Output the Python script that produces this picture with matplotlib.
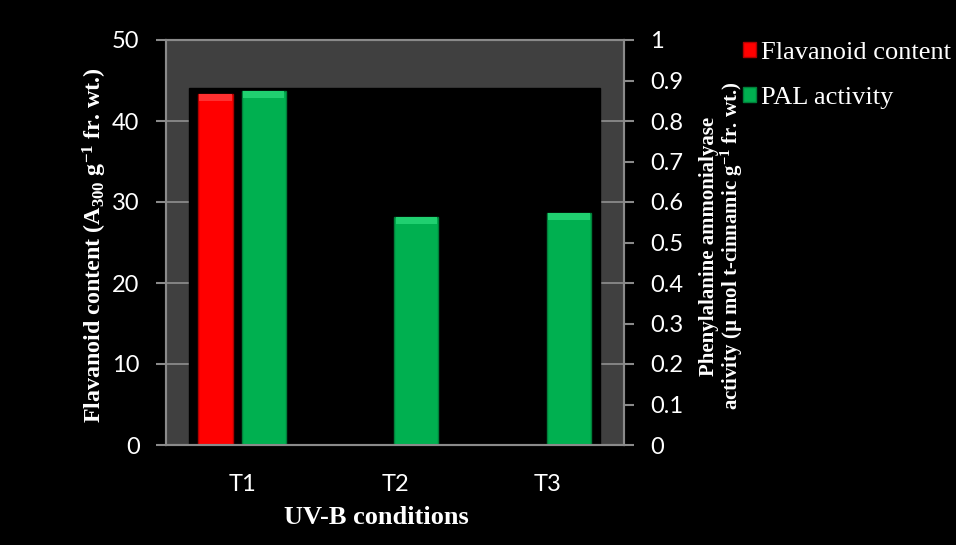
import matplotlib
matplotlib.use("Agg")
import matplotlib.pyplot as plt
from matplotlib.patches import Rectangle, Patch
import numpy as np

categories = ["T1", "T2", "T3"]
flavanoid = [43.3, None, None]
pal = [0.874, 0.562, 0.572]
left_ticks = [0, 10, 20, 30, 40, 50]
right_ticks = [0, 0.1, 0.2, 0.3, 0.4, 0.5, 0.6, 0.7, 0.8, 0.9, 1.0]
right_tick_labels = ["0", "0.1", "0.2", "0.3", "0.4", "0.5", "0.6", "0.7", "0.8", "0.9", "1"]

plt.rcParams['mathtext.fontset'] = 'custom'
plt.rcParams['mathtext.rm'] = 'Liberation Serif:bold'
plt.rcParams['mathtext.bf'] = 'Liberation Serif:bold'
plt.rcParams['mathtext.it'] = 'Liberation Serif:bold'

W, H = 956, 545
fig = plt.figure(figsize=(W/100, H/100), dpi=100, facecolor='black')
ax = fig.add_axes([166/W, 100/H, 458/W, 405/H])
ax.set_facecolor('#404040')
gray = '#8a8a8a'
TS = 17

x = np.arange(len(categories))
ax.set_xlim(-0.5, 2.5)
ax.set_ylim(0, 50)
ax.set_yticks(left_ticks)
ax.set_axisbelow(True)
ax.yaxis.grid(True, color=gray, linewidth=1.3)

# black inner panel
ax.add_patch(Rectangle((0.05, 0), 0.8976, 0.8815, transform=ax.transAxes,
                       color='black', zorder=1))

for s in ax.spines.values():
    s.set_color(gray)
    s.set_linewidth(1.5)
ax.tick_params(axis='y', colors=gray, length=7, width=1.5, pad=12, labelcolor='white')
ax.tick_params(axis='x', length=0, pad=21, labelcolor='white')
ax.set_xticks(x)
ax.set_xticklabels(categories, fontdict=dict(family='Lato', size=TS))
for lbl in ax.get_yticklabels():
    lbl.set_fontfamily('Lato'); lbl.set_fontsize(TS)

# red bars (left axis)
red_off, red_w = -0.176, 0.229
fx = [xi + red_off for xi, v in zip(x, flavanoid) if v is not None]
fv = [v for v in flavanoid if v is not None]
ax.bar(fx, fv, width=red_w, color='#ff0000', edgecolor='#b00000', linewidth=1, zorder=2)
ax.bar(fx, [0.8]*len(fv), bottom=[v-0.8 for v in fv], width=red_w*0.94,
       color='#ff3030', linewidth=0, zorder=2.1)

ax2 = ax.twinx()
ax2.set_ylim(0, 1)
ax2.set_yticks(right_ticks)
ax2.set_yticklabels(right_tick_labels)
for s in ax2.spines.values():
    s.set_color(gray)
    s.set_linewidth(1.5)
ax2.tick_params(axis='y', colors=gray, length=7, width=1.5, pad=12, labelcolor='white')
for lbl in ax2.get_yticklabels():
    lbl.set_fontfamily('Lato'); lbl.set_fontsize(TS)

green_off, green_w = 0.14, 0.288
ax2.bar(x + green_off, pal, width=green_w, color='#00b050', edgecolor='#00803a', linewidth=1,
        zorder=2)
ax2.bar(x + green_off, [0.016]*len(pal), bottom=[v-0.016 for v in pal], width=green_w*0.94,
        color='#20d070', linewidth=0, zorder=2.1)

fig.text(95/W, 1-245/H, r"Flavanoid content (A$_{300}$ g$^{-1}$ fr. wt.)",
         family='Liberation Serif', weight='bold', size=17.3, color='white',
         rotation=90, ha='center', va='center')
fig.text(376/W, 1-518/H, "UV-B conditions", family='Liberation Serif', weight='bold',
         size=19, color='white', ha='center', va='center')
fig.text(722/W, 1-246/H,
         "Phenylalanine ammonialyase\nactivity (\u00b5 mol t-cinnamic g$^{-1}$ fr. wt.)",
         family='Liberation Serif', weight='bold', size=15, color='white',
         rotation=90, ha='center', va='center', linespacing=0.95)

# legend
handles = [Patch(facecolor='#ff0000', edgecolor='#b00000'),
           Patch(facecolor='#00b050', edgecolor='#00803a')]
leg = fig.legend(handles, ['Flavanoid content', 'PAL activity'], loc='upper left',
                 bbox_to_anchor=(743/W, 1-42/H), frameon=False,
                 prop=dict(family='Liberation Serif', size=19),
                 handlelength=0.5, handleheight=0.5, handletextpad=0.2,
                 labelspacing=0.87, borderaxespad=0, borderpad=0)
for t in leg.get_texts():
    t.set_color('white')

fig.savefig('out.png', dpi=100, facecolor='black')
